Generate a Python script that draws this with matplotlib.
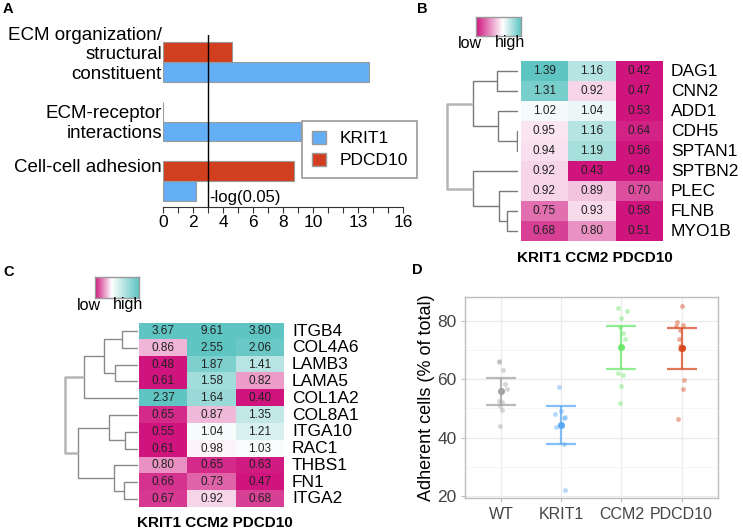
import numpy as np
import matplotlib
matplotlib.use('Agg')
import matplotlib.pyplot as plt
from matplotlib.colors import LinearSegmentedColormap, TwoSlopeNorm
from matplotlib.patches import Patch
import matplotlib.transforms as mtransforms

plt.rcParams['font.family'] = ['Liberation Sans', 'DejaVu Sans']

W, H = 743, 530

# ---------------- data ----------------
# Panel A: enrichment, -log(p)
terms = ['ECM organization/\nstructural\nconstituent', 'ECM-receptor\ninteractions', 'Cell-cell adhesion']
krit1_enrich = [13.76, 9.18, 2.2]
pdcd10_enrich = [4.58, 0.0, 8.73]
cutoff = 3.0
a_ticks = [0, 2, 4, 6, 8, 10, 13, 16]

# Panel B heatmap
b_genes = ['DAG1', 'CNN2', 'ADD1', 'CDH5', 'SPTAN1', 'SPTBN2', 'PLEC', 'FLNB', 'MYO1B']
b_krit1 = [1.39, 1.31, 1.02, 0.95, 0.94, 0.92, 0.92, 0.75, 0.68]
b_ccm2 = [1.16, 0.92, 1.04, 1.16, 1.19, 0.43, 0.89, 0.93, 0.80]
b_pdcd10 = [0.42, 0.47, 0.53, 0.64, 0.56, 0.49, 0.70, 0.58, 0.51]
# linkage: (left, right, height); nodes >= n are earlier merges
b_links = [(3, 4, 0.022), (0, 1, 0.293), (7, 8, 0.162), (2, 9, 0.279),
           (6, 11, 0.265), (10, 12, 0.628), (5, 13, 0.628), (14, 15, 1.0)]

# Panel C heatmap
c_genes = ['ITGB4', 'COL4A6', 'LAMB3', 'LAMA5', 'COL1A2', 'COL8A1', 'ITGA10', 'RAC1', 'THBS1', 'FN1', 'ITGA2']
c_krit1 = [3.67, 0.86, 0.48, 0.61, 2.37, 0.65, 0.55, 0.61, 0.80, 0.66, 0.67]
c_ccm2 = [9.61, 2.55, 1.87, 1.58, 1.64, 0.87, 1.04, 0.98, 0.65, 0.73, 0.92]
c_pdcd10 = [3.80, 2.06, 1.41, 0.82, 0.40, 1.35, 1.21, 1.03, 0.63, 0.47, 0.68]
c_links = [(0, 1, 0.22), (2, 3, 0.312), (11, 12, 0.459), (13, 4, 0.735),
           (6, 7, 0.175), (5, 15, 0.39), (9, 10, 0.188), (8, 17, 0.326),
           (16, 18, 0.825), (14, 19, 1.0)]

conditions = ['KRIT1', 'CCM2', 'PDCD10']

# Panel D: adherent cells (% of total)
groups = ['WT', 'KRIT1', 'CCM2', 'PDCD10']
wt_pts = [66.2, 65.8, 63.0, 58.2, 56.5, 52.6, 52.3, 50.9, 49.5, 44.1]
wt_jit = [-0.04, -0.03, 0.03, 0.06, 0.09, -0.03, 0.01, -0.01, 0.02, -0.02]
krit1_pts = [57.2, 49.2, 47.9, 46.8, 47.0, 43.5, 37.7, 22.2]
krit1_jit = [-0.03, -0.01, -0.10, 0.04, 0.07, -0.09, 0.04, 0.07]
ccm2_pts = [84.4, 83.2, 80.9, 77.9, 75.9, 73.7, 62.0, 61.3, 57.5, 51.7]
ccm2_jit = [-0.06, 0.09, 0.0, -0.02, 0.02, 0.055, -0.06, 0.03, -0.01, -0.02]
pdcd10_pts = [84.9, 79.5, 78.6, 78.2, 76.8, 73.6, 71.5, 70.9, 70.2, 59.8, 56.6, 46.4]
pdcd10_jit = [0.0, -0.07, 0.03, -0.10, -0.02, -0.04, -0.03, 0.03, -0.03, 0.04, 0.03, -0.06]
group_means = [55.9, 44.2, 70.9, 70.5]
err_low = [51.3, 37.7, 63.5, 63.5]
err_high = [60.5, 50.7, 78.3, 77.5]

# ---------------- helpers ----------------
def box(x0, y0, x1, y1):
    return [x0 / W, 1 - y1 / H, (x1 - x0) / W, (y1 - y0) / H]


def draw_dendro(ax, links, n, color='#7a7a7a'):
    pos = {i: (float(i), 0.0) for i in range(n)}
    for k, (a, b, h) in enumerate(links):
        ya, ha = pos[a]
        yb, hb = pos[b]
        c = '#b5b5b5' if k == len(links) - 1 else color
        lw = 1.8 if k == len(links) - 1 else 1.0
        ax.plot([ha, h, h, hb], [ya, ya, yb, yb], color=c, lw=lw, solid_capstyle='butt')
        pos[n + k] = ((ya + yb) / 2, h)


cmap = LinearSegmentedColormap.from_list('mw', ['#D0147E', '#FFFFFF', '#5EC5C2'])


def draw_heat(rect, vals, genes, norm, col_label_y):
    ax = fig.add_axes(box(*rect))
    data = np.array(vals).T
    ax.imshow(np.log2(data), cmap=cmap, norm=norm, aspect='auto', interpolation='nearest')
    for i in range(data.shape[0]):
        for j in range(data.shape[1]):
            ax.text(j, i, f'{data[i, j]:.2f}', ha='center', va='center', fontsize=8.5, color='#222222')
    trans = mtransforms.blended_transform_factory(ax.transAxes, ax.transData)
    wpx = rect[2] - rect[0]
    for i, g in enumerate(genes):
        ax.text(1 + 8 / wpx, i, g, transform=trans, ha='left', va='center', fontsize=12.5)
    ax.axis('off')
    fig.text((rect[0] + rect[2]) / 2 / W + 3 / W, 1 - col_label_y / H, ' '.join(conditions),
             ha='center', va='center', fontsize=11, fontweight='bold')
    return ax


def draw_cbar(rect, norm, low_x, high_x, text_y):
    ax = fig.add_axes(box(*rect))
    grad = np.linspace(norm.vmin, norm.vmax, 200)[None, :]
    ax.imshow(grad, cmap=cmap, norm=norm, aspect='auto')
    ax.set_xticks([])
    ax.set_yticks([])
    for s in ax.spines.values():
        s.set_color('#999999')
        s.set_linewidth(1.0)
    fig.text(low_x / W, 1 - text_y / H, 'low', ha='center', va='center', fontsize=11.5)
    fig.text(high_x / W, 1 - text_y / H, 'high', ha='center', va='center', fontsize=11.5)


fig = plt.figure(figsize=(W / 100, H / 100), dpi=100)

# ---------------- Panel A ----------------
axA = fig.add_axes(box(163, 35, 403, 207))
ypos = np.arange(len(terms))
bh = 0.336
blue, red = '#64AEF6', '#D13F1F'
axA.barh(ypos + bh / 2, krit1_enrich, height=bh, color=blue, edgecolor='#9a9a9a', lw=0.8)
axA.barh(ypos - bh / 2, pdcd10_enrich, height=bh, color=red, edgecolor='#9a9a9a', lw=0.8)
axA.axvline(cutoff, color='black', lw=1.0)
axA.text(cutoff + 0.1, 2.27, '-log(0.05)', ha='left', va='center', fontsize=12)
axA.set_xlim(0, 16)
axA.set_ylim(2.437, -0.454)
axA.set_xticks(range(17))
axA.set_xticklabels([str(t) if t in a_ticks else '' for t in range(17)], fontsize=12.5)
axA.tick_params(axis='x', length=4, width=0.8, color='#333333', pad=2)
axA.set_yticks([])
for s in ['left', 'right', 'top']:
    axA.spines[s].set_visible(False)
axA.spines['bottom'].set_color('#333333')
axA.spines['bottom'].set_linewidth(0.8)
ytr = mtransforms.blended_transform_factory(axA.transAxes, axA.transData)
for y_lab, t in zip([-0.118, 1.034, 1.765], terms):
    axA.text(-1 / 240, y_lab, t, transform=ytr, ha='right', va='center', fontsize=13.5, linespacing=1.2)
axA.legend(handles=[Patch(facecolor=blue, edgecolor='#9a9a9a'), Patch(facecolor=red, edgecolor='#9a9a9a')],
           labels=['KRIT1', 'PDCD10'], loc='upper left', bbox_to_anchor=(302 / W, 1 - 121 / H),
           bbox_transform=fig.transFigure, fontsize=12.5, frameon=True, fancybox=False,
           edgecolor='#999999', framealpha=1, handlelength=0.85, handleheight=0.85,
           borderpad=0.55, labelspacing=0.35, handletextpad=0.75, borderaxespad=0)
axA.get_legend().get_frame().set_linewidth(1.2)

# ---------------- Panel B ----------------
normB = TwoSlopeNorm(vcenter=0, vmin=np.log2(0.62), vmax=np.log2(1.38))
draw_heat((520.7, 61, 662.7, 241), [b_krit1, b_ccm2, b_pdcd10], b_genes, normB, 258)
axBd = fig.add_axes(box(440, 61, 518.3, 241))
draw_dendro(axBd, b_links, len(b_genes))
axBd.set_ylim(len(b_genes) - 0.5, -0.5)
axBd.set_xlim(78.3 / 71.6, 0)
axBd.axis('off')
draw_cbar((476, 16.7, 521, 35.7), normB, 470, 510, 43)

# ---------------- Panel C ----------------
normC = TwoSlopeNorm(vcenter=0, vmin=np.log2(0.62), vmax=np.log2(2.2))
draw_heat((139.3, 322.7, 284, 507.3), [c_krit1, c_ccm2, c_pdcd10], c_genes, normC, 522.7)
axCd = fig.add_axes(box(60, 322.7, 137.7, 507.3))
draw_dendro(axCd, c_links, len(c_genes), color='#8a8a8a')
axCd.set_ylim(len(c_genes) - 0.5, -0.5)
axCd.set_xlim(77.7 / 72.7, 0)
axCd.axis('off')
draw_cbar((95, 276.7, 139, 297.7), normC, 89, 128.5, 305)

# ---------------- Panel D ----------------
axD = fig.add_axes(box(465, 297.3, 717.7, 498.3))
gcolors = ['#A3A3A3', '#5AA9F3', '#6CE86C', '#D94B21']
pts = [wt_pts, krit1_pts, ccm2_pts, pdcd10_pts]
jits = [wt_jit, krit1_jit, ccm2_jit, pdcd10_jit]
xs = np.arange(1, len(groups) + 1)
for x, p, j, c, m, lo, hi in zip(xs, pts, jits, gcolors, group_means, err_low, err_high):
    axD.scatter(x + np.array(j), p, s=12, color=c, alpha=0.45, lw=0, zorder=3)
    axD.errorbar([x], [m], yerr=[[m - lo], [hi - m]], fmt='none', ecolor=c, elinewidth=1.6,
                 capsize=11, capthick=1.6, alpha=0.75, zorder=4)
    axD.scatter([x], [m], s=26, color=c, zorder=5, lw=0)
axD.set_xlim(0.4, 4.6)
axD.set_ylim(19.2, 88)
axD.set_xticks(xs)
axD.set_xticklabels(groups, fontsize=11.5)
axD.set_yticks([20, 40, 60, 80])
axD.set_yticks([30, 50, 70], minor=True)
axD.grid(which='major', color='#EBEBEB', lw=0.9, zorder=0)
axD.grid(which='minor', axis='y', color='#F2F2F2', lw=0.5, zorder=0)
axD.set_axisbelow(True)
for s in axD.spines.values():
    s.set_color('#BDBDBD')
    s.set_linewidth(1.0)
axD.tick_params(axis='both', which='major', labelcolor='#444444', color='#BDBDBD', length=3, pad=3)
axD.tick_params(axis='y', which='major', labelsize=12.5)
axD.tick_params(axis='y', which='minor', length=0)
axD.set_ylabel('Adherent cells (% of total)', fontsize=13, labelpad=2)

# panel letters
for lab, x, y in [('A', 3, 9), ('B', 417, 9), ('C', 3, 272), ('D', 412, 270)]:
    fig.text(x / W, 1 - y / H, lab, ha='left', va='center', fontsize=10.5, fontweight='bold')

fig.savefig('out.png', dpi=100)
